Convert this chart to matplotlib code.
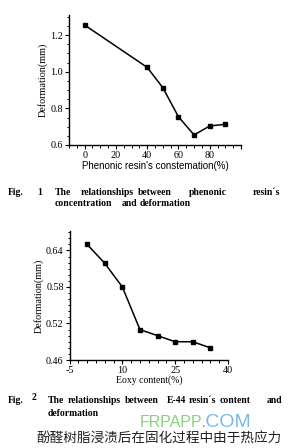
import matplotlib
matplotlib.use("Agg")
import matplotlib.pyplot as plt
from matplotlib.ticker import MultipleLocator, FixedLocator

plt.rcParams['font.family'] = ['Liberation Serif', 'DejaVu Serif']

# Fig. 1 data: phenolic resin concentration vs deformation
phenolic_conc = [0, 40, 50, 60, 70, 80, 90]
phenolic_def = [1.255, 1.024, 0.913, 0.754, 0.655, 0.704, 0.713]
fig1_xticks = [0, 20, 40, 60, 80]
fig1_yticks = [0.6, 0.8, 1.0, 1.2]

# Fig. 2 data: epoxy content vs deformation
epoxy_content = [0, 5, 10, 15, 20, 25, 30, 35]
epoxy_def = [0.650, 0.619, 0.580, 0.510, 0.500, 0.490, 0.490, 0.480]
fig2_xticks = [-5, 10, 25, 40]
fig2_yticks = [0.46, 0.52, 0.58, 0.64]

W, H = 297, 448
fig = plt.figure(figsize=(W / 100, H / 100), dpi=100)


def px(x, y):
    return x / W, 1 - y / H


def box(x0, y0, x1, y1):
    return [x0 / W, 1 - y1 / H, (x1 - x0) / W, (y1 - y0) / H]


def style_axes(ax):
    for s in ['top', 'right']:
        ax.spines[s].set_visible(False)
    for s in ['left', 'bottom']:
        ax.spines[s].set_linewidth(1.0)
    ax.tick_params(which='major', direction='out', length=3, width=0.8, labelsize=7.3, pad=1.2)
    ax.tick_params(which='minor', direction='out', length=1.8, width=0.7)


# ---- Fig. 1 ----
ax1 = fig.add_axes(box(69, 15, 241, 145))
ax1.plot(phenolic_conc, phenolic_def, color='black', lw=1.1, marker='s', ms=3.2)
ax1.set_xlim(-10, 100)
ax1.set_ylim(0.6, 1.31)
ax1.xaxis.set_major_locator(FixedLocator(fig1_xticks + [100]))
ax1.set_xticklabels([str(t) for t in fig1_xticks] + [''])
ax1.xaxis.set_minor_locator(MultipleLocator(5))
ax1.yaxis.set_major_locator(FixedLocator(fig1_yticks))
ax1.set_yticklabels(['0.6', '0.8', '1.0', '1.2'])
ax1.yaxis.set_minor_locator(MultipleLocator(0.05))
style_axes(ax1)
ax1.set_xlabel("Phenonic resin's constemation(%)", family=['Liberation Sans'],
               fontsize=7.0, labelpad=0.5)
ax1.set_ylabel('Deformation(mm)', fontsize=7.3, labelpad=2)

# ---- Fig. 2 ----
ax2 = fig.add_axes(box(69.5, 231, 228, 360))
ax2.plot(epoxy_content, epoxy_def, color='black', lw=1.1, marker='s', ms=3.2)
ax2.set_xlim(-5, 40)
ax2.set_ylim(0.46, 0.672)
ax2.xaxis.set_major_locator(FixedLocator(fig2_xticks))
ax2.set_xticklabels([str(t) for t in fig2_xticks])
ax2.xaxis.set_minor_locator(MultipleLocator(2.5))
ax2.yaxis.set_major_locator(FixedLocator(fig2_yticks))
ax2.set_yticklabels(['0.46', '0.52', '0.58', '0.64'])
ax2.yaxis.set_minor_locator(MultipleLocator(0.01))
style_axes(ax2)
ax2.set_xlabel('Eoxy content(%)', fontsize=7.0, labelpad=0.5)
ax2.set_ylabel('Deformation(mm)', fontsize=7.3, labelpad=2)

# ---- captions ----
cap = dict(fontsize=6.9, fontweight='bold', va='center', ha='left')
fig.text(*px(8, 192), 'Fig.', **cap)
fig.text(*px(37, 192), '1', **cap)
words1 = [('The', 55), ('relationships', 81), ('between', 138), ('phenonic', 189), ('resin\u00b4s', 253)]
for w, x in words1:
    fig.text(*px(x, 192), w, **cap)
for w, x in [('concentration', 55), ('and', 122), ('deformation', 140)]:
    fig.text(*px(x, 204), w, **cap)

fig.text(*px(8, 400), 'Fig.', **cap)
fig.text(*px(32, 398), '2', **cap)
words2 = [('The', 48), ('relationships', 68), ('between', 125), ('E-44', 167),
          ('resin\u00b4s', 189), ('content', 220), ('and', 267)]
for w, x in words2:
    fig.text(*px(x, 400), w, **cap)
fig.text(*px(48, 413), 'deformation', **cap)

# watermark
fig.text(*px(140, 427), 'FRPAPP', family=['Liberation Sans'], fontsize=11.5,
         color='#8dd07f', va='baseline', ha='left')
fig.text(*px(200, 427), '.COM', family=['Liberation Sans'], fontsize=14,
         color='#7ab8e6', va='baseline', ha='left')

fig.text(*px(36, 438.5), '酚醛树脂浸渍后在固化过程中由于热应力',
         family=['Noto Sans CJK SC'], fontsize=9.8, va='center', ha='left', color='#222222')

fig.savefig('out.png', dpi=100)
